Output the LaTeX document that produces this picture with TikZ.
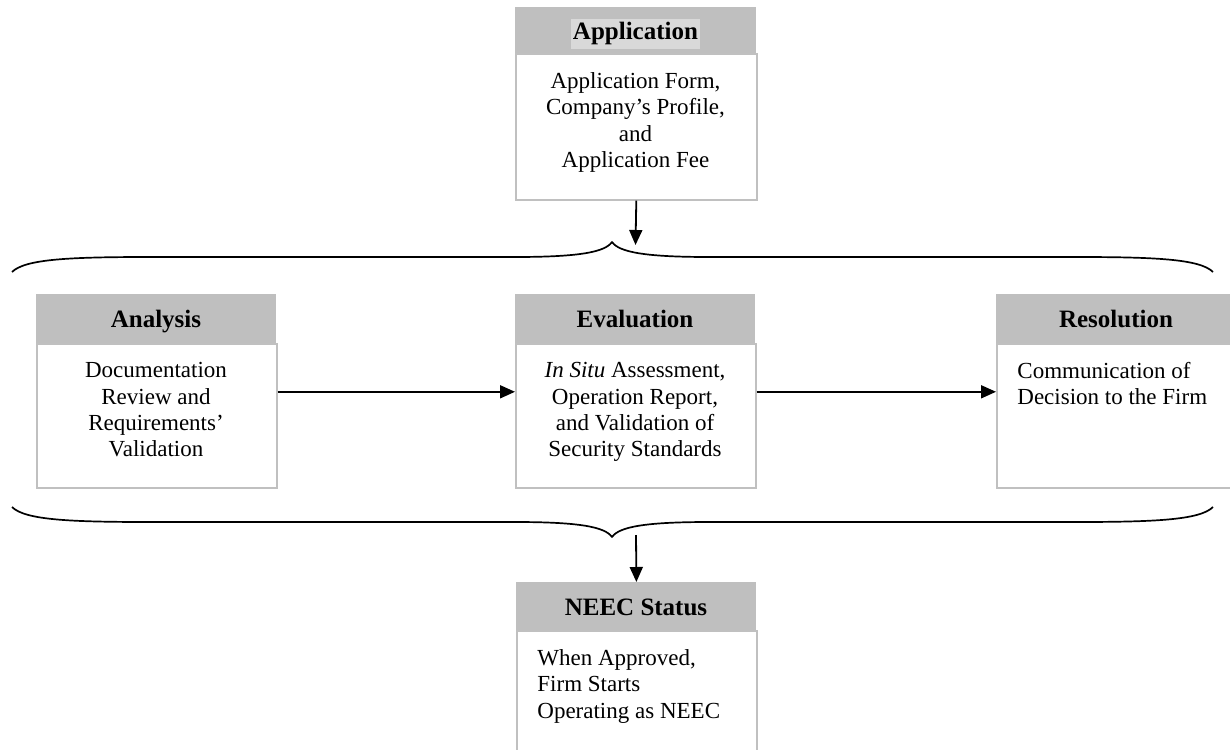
\documentclass[tikz,border=0pt]{standalone}
\usepackage{fontspec}
\setmainfont{Liberation Serif}
\usetikzlibrary{arrows.meta}
\definecolor{hdrgray}{HTML}{BFBFBF}
\definecolor{bordergray}{HTML}{C0C0C0}
\definecolor{hlgray}{HTML}{D9D9D9}
\begin{document}
\begin{tikzpicture}[x=0.5pt,y=-0.5pt,
  hdr/.style={fill=hdrgray, draw=none, inner sep=0pt, minimum width=120.5pt, minimum height=24pt, anchor=north west},
  bodybox/.style={draw=bordergray, fill=white, line width=0.8pt, inner sep=0pt, minimum width=120.5pt, anchor=north west},
  ttl/.style={font=\fontsize{12.5}{14}\selectfont\bfseries, inner sep=0pt, anchor=base},
  txt/.style={font=\fontsize{11.5}{13.2}\selectfont, inner sep=0pt, anchor=north, align=center},
  txtl/.style={font=\fontsize{11.5}{13.2}\selectfont, inner sep=0pt, anchor=north west, align=left},
  arr/.style={-{Triangle[length=7.5pt,width=6.5pt]}, line width=0.9pt},
  brc/.style={line width=0.85pt, line join=round}
]
\useasboundingbox (0,0) rectangle (1230,749);

% Application
\node[bodybox, minimum height=73pt] (appb) at (515,53) {};
\node[hdr, minimum height=23pt] (apph) at (515,7) {};
\node[ttl, fill=hlgray, inner xsep=1pt, inner ysep=2pt, anchor=base] (appt) at (635.5,40) {Application};
\node[txt] (appx) at (635.5,72) {Application Form,\\ Company's Profile,\\ and\\ Application Fee};

% Analysis
\node[bodybox, minimum width=120pt, minimum height=72pt] (anb) at (36,343) {};
\node[hdr, minimum width=120pt, minimum height=24.5pt] (anh) at (36,294) {};
\node[ttl] (ant) at (156,327) {Analysis};
\node[txt] (anx) at (156,362) {Documentation\\ Review and\\ Requirements'\\ Validation};

% Evaluation
\node[bodybox, minimum width=120pt, minimum height=72pt] (evb) at (515,343) {};
\node[hdr, minimum width=120pt, minimum height=24.5pt] (evh) at (515,294) {};
\node[ttl] (evt) at (635,327) {Evaluation};
\node[txt] (evx) at (635,362) {\textit{In Situ} Assessment,\\ Operation Report,\\ and Validation of\\ Security Standards};

% Resolution
\node[bodybox, minimum width=120pt, minimum height=72pt] (reb) at (996,343) {};
\node[hdr, minimum width=120pt, minimum height=24.5pt] (reh) at (996,294) {};
\node[ttl] (ret) at (1116,327) {Resolution};
\node[txtl] (rex) at (1017,362) {Communication of\\ Decision to the Firm};

% NEEC Status
\node[bodybox, minimum width=120pt, minimum height=72pt] (neb) at (516,630) {};
\node[hdr, minimum width=120pt, minimum height=24pt] (neh) at (516,582) {};
\node[ttl] (net) at (636,615) {NEEC Status};
\node[txtl] (nex) at (537,649) {When Approved,\\ Firm Starts\\ Operating as NEEC};

% braces
\draw[brc] (12,272) .. controls (25,259) and (70,257) .. (150,257)
  -- (515,257) .. controls (580,257) and (605,252) .. (612,242)
  .. controls (619,252) and (644,257) .. (709,257)
  -- (1075,257) .. controls (1155,257) and (1200,259) .. (1213,272);
\draw[brc] (12,507) .. controls (25,520) and (70,522) .. (150,522)
  -- (515,522) .. controls (580,522) and (605,527) .. (612,537)
  .. controls (619,527) and (644,522) .. (709,522)
  -- (1075,522) .. controls (1155,522) and (1200,520) .. (1213,507);
\coordinate (topin) at (635.5,245);
\coordinate (botout) at (636,535);

% connectors
\draw[arr] (appb.south) -- (topin);
\draw[arr] ([yshift=12pt]anb.east) -- ([yshift=12pt]evb.west);
\draw[arr] ([yshift=12pt]evb.east) -- ([yshift=12pt]reb.west);
\draw[arr] (botout) -- (neh.north);
\end{tikzpicture}
\end{document}
